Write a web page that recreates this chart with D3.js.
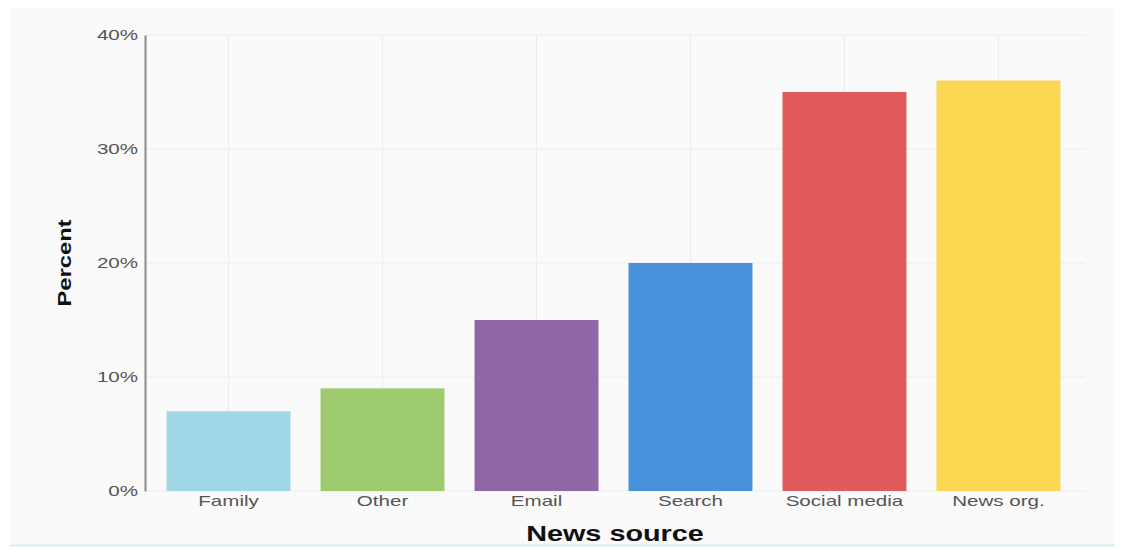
<!DOCTYPE html>
<html lang="en">
    <head>
        <meta charset="utf-8">
        <title>News source</title>
        <script src="https://d3js.org/d3.v7.min.js"></script>
        <style media="screen">
        body { margin: 0; background: #fff; }
        .axis text {
          font-family: "Liberation Sans", Arial, sans-serif;
          font-size: 15px;
          fill: #555;
        }
        .grid line { stroke: #ececec; stroke-width: 1; }
        </style>
    </head>
    <body>
        <script type="text/javascript">
        'use strict'
        let categories = ["Family", "Other", "Email", "Search", "Social media", "News org."]
        let values = [7, 9, 15, 20, 35, 36]
        let colors = ["#a0d8e7", "#9dcb6d", "#9066a7", "#4a91dc", "#e15a5c", "#fcd852"]
        let yTicks = [0, 10, 20, 30, 40]

        let w = 1123
        let h = 549
        let mLeft = 145, mRight = 1085, mTop = 35, mBottom = 491
        // the source picture is stretched sideways, so text is too
        let stretch = 1.37

        let svg = d3.select("body")
          .append("svg")
          .attr("width", w)
          .attr("height", h)

        // panel
        svg.append("rect")
          .attr("x", 10).attr("y", 8)
          .attr("width", 1105).attr("height", 537)
          .attr("fill", "#fafafa")
        svg.append("line")
          .attr("x1", 10).attr("x2", 1115)
          .attr("y1", 545.5).attr("y2", 545.5)
          .attr("stroke", "#d6ecf6").attr("stroke-width", 2)

        let xScale = d3.scaleBand()
          .domain(categories)
          .range([mLeft, 1082])
          .paddingInner(0.195)
          .paddingOuter(0.14)

        let yScale = d3.scaleLinear()
          .domain([0, 40])
          .range([mBottom, mTop])

        // grid
        svg.append("g")
          .attr("class", "grid")
          .selectAll("line")
          .data(yTicks)
          .enter()
          .append("line")
          .attr("x1", mLeft).attr("x2", mRight)
          .attr("y1", (d) => yScale(d)).attr("y2", (d) => yScale(d))

        svg.append("g")
          .attr("class", "grid")
          .selectAll("line")
          .data(categories)
          .enter()
          .append("line")
          .attr("x1", (d) => xScale(d) + xScale.bandwidth() / 2)
          .attr("x2", (d) => xScale(d) + xScale.bandwidth() / 2)
          .attr("y1", mTop).attr("y2", mBottom)

        // bars
        svg.selectAll("rect.bar")
          .data(values)
          .enter()
          .append("rect")
          .attr("class", "bar")
          .attr("x", (d, i) => xScale(categories[i]))
          .attr("y", (d) => yScale(d))
          .attr("width", xScale.bandwidth())
          .attr("height", (d) => yScale(0) - yScale(d))
          .attr("fill", (d, i) => colors[i])

        // axes
        let yAxis = svg.append("g")
          .attr("class", "axis")
          .attr("transform", "translate(" + mLeft + ",0)")
          .call(d3.axisLeft(yScale).tickValues(yTicks).tickFormat((d) => d + "%").tickSize(0).tickPadding(0))
        yAxis.select(".domain").attr("stroke", "#8a8a8a").attr("stroke-width", 2)
        yAxis.selectAll("text").attr("x", 0).attr("transform", "translate(-7,0) scale(" + stretch + ",1)")

        let xAxis = svg.append("g")
          .attr("class", "axis")
          .attr("transform", "translate(0," + mBottom + ")")
          .call(d3.axisBottom(xScale).tickSize(0).tickPadding(4))
        xAxis.select(".domain").remove()
        xAxis.selectAll("text").attr("transform", "scale(" + stretch + ",1)")

        // axis titles
        svg.append("text")
          .text("Percent")
          .attr("transform", "translate(71,263) rotate(-90) scale(1.25,1)")
          .attr("text-anchor", "middle")
          .attr("font-family", "Liberation Sans, Arial, sans-serif")
          .attr("font-size", "19px")
          .attr("font-weight", "bold")
          .attr("fill", "#111")

        svg.append("text")
          .text("News source")
          .attr("transform", "translate(615,541) scale(1.31,1)")
          .attr("text-anchor", "middle")
          .attr("font-family", "Liberation Sans, Arial, sans-serif")
          .attr("font-size", "22px")
          .attr("font-weight", "bold")
          .attr("fill", "#111")

        </script>
    </body>
</html>
